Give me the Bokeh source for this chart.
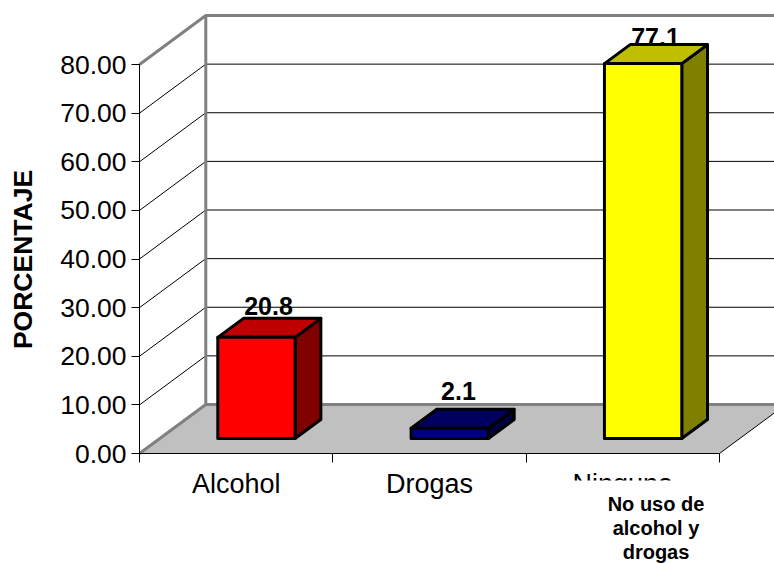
from math import pi

from bokeh.embed import file_html
from bokeh.models import BoxAnnotation, FixedTicker, Label, NumeralTickFormatter, Range1d
from bokeh.plotting import figure
from bokeh.resources import INLINE

categories = ["Alcohol", "Drogas", "Ninguna"]
percentages = [20.8, 2.1, 77.1]
value_labels = ["20.8", "2.1", "77.1"]
front_colors = ["#FF0000", "#000080", "#FFFF00"]
top_colors = ["#BF0000", "#000060", "#BFBF00"]
side_colors = ["#800000", "#000040", "#808000"]
y_ticks = [0, 10, 20, 30, 40, 50, 60, 70, 80]
x_ticks = [0, 1, 2, 3]
y_title = "PORCENTAJE"
note_lines = ["No uso de", "alcohol y", "drogas"]

FONT = "Liberation Sans"
PX_X = 193.33
PX_Y = 4.8625
ORIGIN_X, ORIGIN_Y = 139, 453
DEPTH_X = 66.3 / PX_X
DEPTH_Y = 49 / PX_Y
BAR_W = 0.4
Z_FRONT, Z_BACK = 0.306, 0.694


def sx(px):
    return (px - ORIGIN_X) / PX_X


def sy(py):
    return (ORIGIN_Y - py) / PX_Y


p = figure(
    width=774, height=563,
    x_range=Range1d(sx(0), sx(774)), y_range=Range1d(sy(563), sy(0)),
    output_backend="svg", toolbar_location=None,
    min_border_left=0, min_border_bottom=0, min_border_top=0, min_border_right=0,
    background_fill_color="white", border_fill_color="white", outline_line_color=None,
)
p.grid.visible = False

# Axes pinned to the front corner of the box
p.yaxis.fixed_location = 0
p.yaxis.bounds = (0, 80)
p.yaxis.ticker = FixedTicker(ticks=y_ticks)
p.yaxis.formatter = NumeralTickFormatter(format="0.00")
p.yaxis.major_label_text_font = FONT
p.yaxis.major_label_text_font_size = "26.5px"
p.yaxis.major_label_text_color = "black"
p.yaxis.major_label_standoff = 5
p.yaxis.major_tick_out = 8
p.yaxis.major_tick_in = 0
p.yaxis.minor_tick_line_color = None
p.yaxis.axis_line_color = "black"
p.yaxis.major_tick_line_color = "black"
p.xaxis.fixed_location = 0
p.xaxis.bounds = (0, 3)
p.xaxis.ticker = FixedTicker(ticks=x_ticks)
p.xaxis.major_label_overrides = {t: "" for t in x_ticks}
p.xaxis.major_tick_out = 9
p.xaxis.major_tick_in = 0
p.xaxis.minor_tick_line_color = None
p.xaxis.axis_line_color = "black"
p.xaxis.major_tick_line_color = "black"

# Floor of the 3D box
x_end = x_ticks[-1]
p.patch([0, x_end, x_end + DEPTH_X, DEPTH_X], [0, 0, DEPTH_Y, DEPTH_Y],
        fill_color="#C0C0C0", line_color=None)
p.line([x_end, x_end + DEPTH_X], [0, DEPTH_Y], line_color="black", line_width=1)

# Gridlines across the side and back walls
gx = [[0, DEPTH_X, x_end + DEPTH_X] for t in y_ticks[1:]]
gy = [[t, t + DEPTH_Y, t + DEPTH_Y] for t in y_ticks[1:]]
p.multi_line(gx, gy, line_color="black", line_width=1)

# Wall edges
wall = dict(line_color="#808080", line_width=3)
top = y_ticks[-1]
p.line([0, DEPTH_X, DEPTH_X, x_end + DEPTH_X], [0, DEPTH_Y, top + DEPTH_Y, top + DEPTH_Y], **wall)
p.line([0, DEPTH_X], [top, top + DEPTH_Y], **wall)
p.line([DEPTH_X, x_end + DEPTH_X], [DEPTH_Y, DEPTH_Y], **wall)

# Bars: front, top and side faces projected to their depth
for i, v in enumerate(percentages):
    x0 = i + 0.5 - BAR_W / 2 + Z_FRONT * DEPTH_X
    x1 = x0 + BAR_W
    y0 = Z_FRONT * DEPTH_Y
    y1 = y0 + v
    dx = (Z_BACK - Z_FRONT) * DEPTH_X
    dy = (Z_BACK - Z_FRONT) * DEPTH_Y
    edge = dict(line_color="black", line_width=3, line_join="round")
    p.patch([x1, x1 + dx, x1 + dx, x1], [y0, y0 + dy, y1 + dy, y1], fill_color=side_colors[i], **edge)
    p.patch([x0, x1, x1 + dx, x0 + dx], [y1, y1, y1 + dy, y1 + dy], fill_color=top_colors[i], **edge)
    p.quad(left=x0, right=x1, bottom=y0, top=y1, fill_color=front_colors[i], **edge)

# Value labels above each bar
label_dx = [268, 458, 655]
label_dy = [305, 390, 36]
for i, text in enumerate(value_labels):
    p.add_layout(Label(x=sx(label_dx[i]), y=sy(label_dy[i]), text=text, text_font=FONT,
                       text_font_style="bold", text_font_size="25px", text_color="black",
                       text_align="center", text_baseline="alphabetic"))

# Category names; the last one sits partly behind the note box
for i, name in enumerate(categories):
    p.add_layout(Label(x=i + 0.5, y=sy(483), text=name, text_font=FONT, text_font_size="27px",
                       text_color="black", text_align="center", text_baseline="alphabetic"))
p.add_layout(BoxAnnotation(left=sx(560), right=sx(730), top=sy(480), bottom=sy(563),
                           fill_color="white", fill_alpha=1, line_color=None))
for line, py in zip(note_lines, [503, 527, 551]):
    p.add_layout(Label(x=sx(655.5), y=sy(py), text=line, text_font=FONT, text_font_style="bold",
                       text_font_size="20px", text_color="black",
                       text_align="center", text_baseline="alphabetic"))

# Rotated value-axis title
p.add_layout(Label(x=sx(22), y=sy(259), text=y_title, text_font=FONT, text_font_style="bold",
                   text_font_size="26.5px", text_color="black", angle=pi / 2,
                   text_align="center", text_baseline="middle"))

open("out.html", "w").write(file_html(p, INLINE))
